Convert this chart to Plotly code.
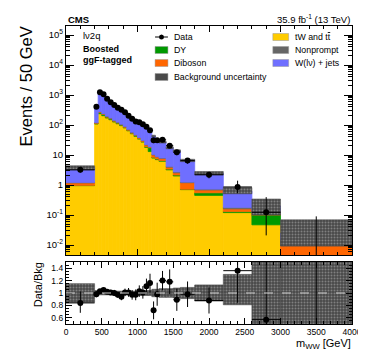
import numpy as np
import plotly.graph_objects as go

# binning (GeV) and contents per 50 GeV
edges = [0, 400, 450, 500, 550, 600, 650, 700, 750, 800, 850, 900, 950, 1000, 1050,
         1100, 1150, 1200, 1250, 1300, 1400, 1500, 1600, 1800, 2200, 2600, 3000, 4000]

data = [3.2, 405, 1230, 1050, 755, 571, 464, 378, 324, 265, 204, 160, 132, 123, 105,
        88, 67, 31, 31, 32, 20.5, 12.3, 6.5, 2.2, 0.86, 0.123, 0]
data_rel_up = [0.22, 0.05, 0.03, 0.03, 0.04, 0.04, 0.05, 0.05, 0.06, 0.06, 0.07, 0.08, 0.09, 0.09, 0.1,
               0.11, 0.13, 0.2, 0.19, 0.13, 0.17, 0.2, 0.21, 0.24, 0.62, 2.2, 0]
data_rel_dn = [0.19, 0.05, 0.03, 0.03, 0.04, 0.04, 0.05, 0.05, 0.06, 0.06, 0.07, 0.08, 0.09, 0.09, 0.1,
               0.11, 0.13, 0.2, 0.19, 0.13, 0.17, 0.2, 0.21, 0.24, 0.38, 0.83, 0]
zero_bin_upper = 0.09

top = [0.95, 108, 237, 204, 171, 150, 126, 110, 95, 80, 64, 51, 42, 34, 27,
       18, 13, 7.9, 7.0, 6.2, 3.2, 2.0, 0.7, 0.45, 0.12, 0.047, 0.004]
dy = [0.02, 4, 25, 20, 12, 10, 8, 6, 5, 4, 3, 2.5, 2, 1.6, 1.3,
      1.0, 4.5, 0.5, 0.4, 0.3, 0.2, 0.15, 0.02, 0.1, 0.01, 0.053, 0]
diboson = [0.2, 5, 12, 10, 9, 8, 6, 5, 4, 3.5, 3, 2.5, 2, 1.8, 1.5,
           2.5, 1, 1.6, 1.2, 1.2, 0.5, 0.4, 0.47, 0.13, 0.03, 0.005, 0.0054]
nonprompt = [0.05, 3, 8, 7, 6, 5, 4, 4, 3, 3, 2, 2, 1.5, 1.2, 1,
             0.8, 0.6, 0.5, 0.4, 0.3, 0.3, 0.2, 0.06, 0.05, 0.02, 0.03, 0.006]
wjets = [2.58, 293, 912, 759, 542, 392, 320, 265, 238, 171.5, 130, 107, 88.5, 80.4, 73.2,
         56.7, 38.9, 32.5, 23, 19, 13.2, 11, 5.35, 1.77, 0.45, 0.065, 0.0096]

# relative background uncertainty
unc_up = [0.15, 0.04, 0.03, 0.03, 0.03, 0.03, 0.03, 0.03, 0.03, 0.03, 0.03, 0.03, 0.03, 0.04, 0.04,
          0.04, 0.04, 0.06, 0.06, 0.07, 0.07, 0.08, 0.09, 0.13, 0.3, 0.7, 1.76]
unc_dn = [0.15, 0.04, 0.03, 0.03, 0.03, 0.03, 0.03, 0.03, 0.03, 0.03, 0.03, 0.03, 0.03, 0.04, 0.04,
          0.04, 0.04, 0.06, 0.06, 0.07, 0.07, 0.08, 0.09, 0.13, 0.19, 0.5, 0.63]

ratio = [0.84, 0.98, 1.03, 1.05, 1.02, 1.01, 1.00, 0.97, 0.94, 1.01, 1.01, 0.97, 0.97, 1.03, 1.01,
         1.11, 1.16, 0.72, 0.98, 1.20, 1.18, 0.89, 0.98, 0.88, 1.36, 0.57, 0]

edges = np.array(edges, dtype=float)
centers = 0.5 * (edges[1:] + edges[:-1])
widths = edges[1:] - edges[:-1]
data = np.array(data)

colors = {'tt': '#ffcc00', 'dy': '#009900', 'dib': '#ff6600', 'np': '#666666', 'wj': '#6f6fff'}
FONT = 'Liberation Sans, Arial, sans-serif'
BAND = 'rgb(72,72,72)'

fig = go.Figure()

# stack
comps = [(top, 'tt'), (dy, 'dy'), (diboson, 'dib'), (nonprompt, 'np'), (wjets, 'wj')]
base = np.zeros(len(centers))
for vals, key in comps:
    vals = np.array(vals, dtype=float)
    fig.add_trace(go.Bar(x=centers, y=vals, base=base if base.any() else None, width=widths,
                         marker=dict(color=colors[key], line=dict(width=0.8, color=colors[key])),
                         showlegend=False, xaxis='x', yaxis='y'))
    base = base + vals
total = base

band_pattern = dict(shape='.', fgcolor='#b8b8b8', size=3, solidity=0.35, fillmode='overlay')
lo = total * (1 - np.array(unc_dn))
hi = total * (1 + np.array(unc_up))
fig.add_trace(go.Bar(x=centers, y=hi - lo, base=lo, width=widths,
                     marker=dict(color=BAND, line=dict(width=0.6, color=BAND), pattern=band_pattern),
                     showlegend=False, xaxis='x', yaxis='y'))

# data points
yplot = np.where(data > 0, data, 1e-4)
err_up = np.where(data > 0, data * np.array(data_rel_up), zero_bin_upper - 1e-4)
err_dn = data * np.array(data_rel_dn)
fig.add_trace(go.Scatter(x=centers, y=yplot, mode='markers',
                         marker=dict(color='black', size=6),
                         error_y=dict(type='data', array=err_up, arrayminus=err_dn, color='black', thickness=1, width=0),
                         error_x=dict(type='data', array=widths / 2, color='black', thickness=1, width=0),
                         showlegend=False, xaxis='x', yaxis='y'))

# ratio panel
rlo = 1 - np.array(unc_dn)
rhi = 1 + np.array(unc_up)
fig.add_trace(go.Bar(x=centers, y=rhi - rlo, base=rlo, width=widths,
                     marker=dict(color=BAND, line=dict(width=0.6, color=BAND), pattern=band_pattern),
                     showlegend=False, xaxis='x2', yaxis='y2'))
ratio = np.array(ratio)
r_up = np.where(data > 0, ratio * np.array(data_rel_up), 5)
r_dn = ratio * np.array(data_rel_dn)
fig.add_trace(go.Scatter(x=centers, y=ratio, mode='markers',
                         marker=dict(color='black', size=6),
                         error_y=dict(type='data', array=r_up, arrayminus=r_dn, color='black', thickness=1, width=0),
                         error_x=dict(type='data', array=widths / 2, color='black', thickness=1, width=0),
                         showlegend=False, xaxis='x2', yaxis='y2'))

# geometry helpers (pixel -> paper)
L, R, T, B = 58, 19, 18, 35
W, H = 366, 351
def px(x):
    return (x - L) / (W - L - R)
def py(y):
    return (H - B - y) / (H - T - B)

axis_common = dict(showline=True, linecolor='black', linewidth=1.2, mirror='ticks',
                   ticks='inside', tickcolor='black', showgrid=False, zeroline=False)

fig.update_layout(
    width=W, height=H, margin=dict(l=L, r=R, t=T, b=B),
    paper_bgcolor='white', plot_bgcolor='white', barmode='overlay',
    font=dict(family=FONT, color='black'),
    xaxis=dict(domain=[0, 1], anchor='y', range=[0, 4000], showticklabels=False,
               dtick=1000, ticklen=6, minor=dict(dtick=200, ticklen=3, ticks='inside', tickcolor='black'),
               **axis_common),
    yaxis=dict(domain=[py(247), 1], anchor='x', type='log', range=[np.log10(0.00464), 5.3],
               tickvals=[1e-2, 1e-1, 1, 10, 100, 1e3, 1e4, 1e5],
               ticktext=['10<sup>-2</sup>', '10<sup>-1</sup>', '1', '10', '10<sup>2</sup>',
                         '10<sup>3</sup>', '10<sup>4</sup>', '10<sup>5</sup>'],
               tickfont=dict(size=9.5), ticklen=8,
               minor=dict(ticks='inside', ticklen=4, tickcolor='black', dtick='D1'),
               **axis_common),
    xaxis2=dict(domain=[0, 1], anchor='y2', range=[0, 4000], dtick=500, ticklen=6,
                tickfont=dict(size=8.5),
                minor=dict(dtick=100, ticklen=3, ticks='inside', tickcolor='black'),
                **axis_common),
    yaxis2=dict(domain=[0, py(254)], anchor='x2', range=[0.5, 1.5],
                tickvals=[0.6, 0.8, 1, 1.2, 1.4], ticktext=['0.6', '0.8', '1', '1.2', '1.4'],
                tickfont=dict(size=8.5), ticklen=6,
                minor=dict(dtick=0.05, ticklen=3, ticks='inside', tickcolor='black'),
                **axis_common),
)

fig.add_shape(type='line', xref='x2', yref='y2', x0=0, x1=4000, y0=1, y1=1,
              line=dict(color='#d0d0d0', width=1, dash='dash'))

ann = []
def text(x, y, s, size, xanchor='left', bold=False, angle=0):
    ann.append(dict(x=px(x), y=py(y), xref='paper', yref='paper', text=('<b>%s</b>' % s) if bold else s,
                    showarrow=False, xanchor=xanchor, yanchor='middle', textangle=angle,
                    font=dict(size=size, family=FONT, color='black')))

text(58, 11, 'CMS', 9.5, bold=True)
text(347, 11, '35.9 fb<sup>-1</sup> (13 TeV)', 9.5, xanchor='right')
text(73, 27, 'lν2q', 9.5)
text(73, 41, 'Boosted', 9, bold=True)
text(73, 52, 'ggF-tagged', 9, bold=True)
text(18, 78, 'Events / 50 GeV', 16.5, xanchor='center', angle=-90)
text(30, 277, 'Data/Bkg', 11, xanchor='center', angle=-90)
text(348, 336, 'm<sub>WW</sub> [GeV]', 11, xanchor='right')

# legend (drawn by hand, two columns)
left_items = [('Data', None), ('DY', colors['dy']), ('Diboson', colors['dib']), ('Background uncertainty', 'band')]
right_items = [('tW and t<span style="text-decoration:overline">t</span>', colors['tt']),
               ('Nonprompt', colors['np']), ('W(lν) + jets', colors['wj'])]
rows = [29, 42, 55, 69]
for (label, c), yy in zip(left_items, rows):
    text(165, yy, label, 8.8)
    if c is None:
        fig.add_shape(type='line', xref='paper', yref='paper', x0=px(148), x1=px(161), y0=py(yy), y1=py(yy),
                      line=dict(color='black', width=1))
        fig.add_shape(type='circle', xref='paper', yref='paper', x0=px(152), x1=px(157), y0=py(yy + 2.5), y1=py(yy - 2.5),
                      fillcolor='black', line=dict(color='black', width=0))
    else:
        fc = '#4a4a4a' if c == 'band' else c
        fig.add_shape(type='rect', xref='paper', yref='paper', x0=px(148), x1=px(161), y0=py(yy + 3.5), y1=py(yy - 3.5),
                      fillcolor=fc, line=dict(color='#999999', width=0.5))
for (label, c), yy in zip(right_items, rows):
    text(287, yy, label, 8.8)
    fig.add_shape(type='rect', xref='paper', yref='paper', x0=px(267), x1=px(283), y0=py(yy + 3.5), y1=py(yy - 3.5),
                  fillcolor=c, line=dict(color='#999999', width=0.5))

fig.update_layout(annotations=ann)
fig.write_html("out.html")
